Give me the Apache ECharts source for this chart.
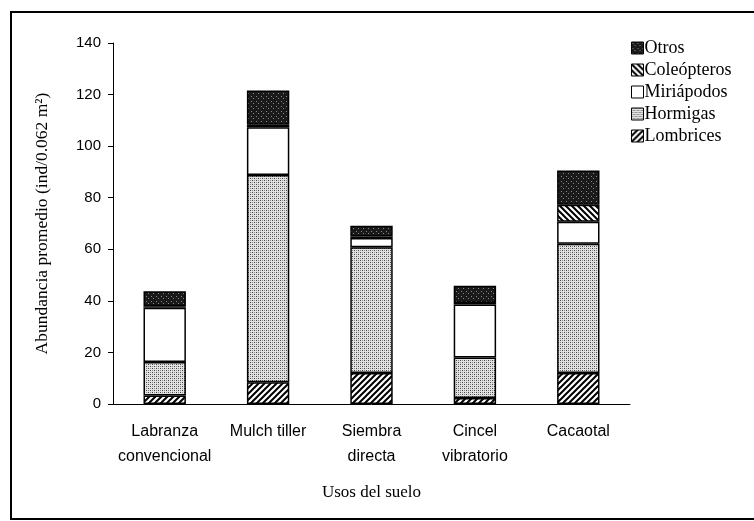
<!DOCTYPE html>
<html>
<head>
<meta charset="utf-8">
<script src="https://cdn.jsdelivr.net/npm/echarts@6/dist/echarts.min.js"></script>
<style>
  html, body { margin: 0; padding: 0; background: #fff; }
  #main { width: 754px; height: 521px; }
</style>
</head>
<body>
<div id="main"></div>
<script>
// categorias y valores
var usos = ['Labranza\nconvencional', 'Mulch tiller', 'Siembra\ndirecta', 'Cincel\nvibratorio', 'Cacaotal'];
var lombrices   = [3.3, 8.4, 12.0, 2.3, 12.0];
var hormigas    = [13.0, 80.4, 48.8, 15.7, 50.1];
var miriapodos  = [21.0, 18.5, 3.6, 20.6, 8.6];
var coleopteros = [0.6, 1.0, 0.6, 0.6, 6.6];
var otros       = [5.8, 13.3, 4.1, 6.7, 13.3];
var yTicks = [0, 20, 40, 60, 80, 100, 120, 140];

// tramas tipo blanco y negro
function trama(tipo) {
  var c = document.createElement('canvas');
  var ctx = c.getContext('2d');
  var s;
  if (tipo === 'slash' || tipo === 'back') {
    s = 6; c.width = s; c.height = s;
    ctx.fillStyle = '#fff'; ctx.fillRect(0, 0, s, s);
    ctx.strokeStyle = '#000'; ctx.lineWidth = 2;
    ctx.beginPath();
    if (tipo === 'slash') {
      ctx.moveTo(-1, s + 1); ctx.lineTo(s + 1, -1);
      ctx.moveTo(-1, 1); ctx.lineTo(1, -1);
      ctx.moveTo(s - 1, s + 1); ctx.lineTo(s + 1, s - 1);
    } else {
      ctx.moveTo(-1, -1); ctx.lineTo(s + 1, s + 1);
      ctx.moveTo(s - 1, -1); ctx.lineTo(s + 1, 1);
      ctx.moveTo(-1, s - 1); ctx.lineTo(1, s + 1);
    }
    ctx.stroke();
  } else if (tipo === 'puntos') {
    s = 4; c.width = s; c.height = s;
    ctx.fillStyle = '#e2e2e2'; ctx.fillRect(0, 0, s, s);
    ctx.fillStyle = '#444';
    ctx.fillRect(0, 0, 1, 1); ctx.fillRect(2, 2, 1, 1);
    ctx.fillStyle = '#8a8a8a';
    ctx.fillRect(0, 2, 1, 1); ctx.fillRect(2, 0, 1, 1);
  } else if (tipo === 'oscuro') {
    s = 5; c.width = s; c.height = s;
    ctx.fillStyle = '#1a1a1a'; ctx.fillRect(0, 0, s, s);
    ctx.fillStyle = '#888';
    ctx.fillRect(1, 1, 1, 1); ctx.fillRect(3, 3, 1, 1);
  }
  return { image: c, repeat: 'repeat' };
}

var myChart = echarts.init(document.getElementById('main'));

function serie(nombre, datos, color) {
  return {
    name: nombre,
    type: 'bar',
    stack: 'total',
    barWidth: '41%',
    data: datos,
    itemStyle: { color: color, borderColor: '#000', borderWidth: 1.5 },
    emphasis: { disabled: true }
  };
}

option = {
  animation: false,
  backgroundColor: '#fff',
  graphic: [{
    type: 'rect',
    shape: { x: 11, y: 12, width: 760, height: 507 },
    style: { fill: 'none', stroke: '#000', lineWidth: 2 },
    silent: true
  }],
  grid: { left: 113, right: 124, top: 43, bottom: 117 },
  legend: {
    orient: 'vertical',
    left: 626,
    top: 34,
    itemWidth: 12,
    itemHeight: 12,
    itemGap: 4,
    icon: 'rect',
    itemStyle: { borderColor: '#000', borderWidth: 1 },
    textStyle: { fontFamily: 'Liberation Serif', fontSize: 18, lineHeight: 14, color: '#000', padding: [0, 0, 0, -4] },
    data: ['Otros', 'Coleópteros', 'Miriápodos', 'Hormigas', 'Lombrices']
  },
  xAxis: {
    type: 'category',
    data: usos,
    name: 'Usos del suelo',
    nameLocation: 'middle',
    nameGap: 80,
    nameTextStyle: { fontFamily: 'Liberation Serif', fontSize: 17, color: '#000' },
    axisLine: { lineStyle: { color: '#000', width: 1 } },
    axisTick: { length: 5, lineStyle: { color: '#000' } },
    axisLabel: { margin: 15, fontFamily: 'Liberation Sans', fontSize: 16, color: '#000', lineHeight: 25, interval: 0 }
  },
  yAxis: {
    type: 'value',
    min: yTicks[0],
    max: yTicks[yTicks.length - 1],
    interval: 20,
    name: 'Abundancia promedio (ind/0.062 m²)',
    nameLocation: 'middle',
    nameGap: 62,
    nameTextStyle: { fontFamily: 'Liberation Serif', fontSize: 17.5, color: '#000' },
    axisLine: { show: true, lineStyle: { color: '#000', width: 1 } },
    axisTick: { show: true, length: 5, lineStyle: { color: '#000' } },
    splitLine: { show: false },
    axisLabel: { margin: 12, fontFamily: 'Liberation Sans', fontSize: 15, color: '#000' }
  },
  series: [
    serie('Lombrices', lombrices, trama('slash')),
    serie('Hormigas', hormigas, trama('puntos')),
    serie('Miriápodos', miriapodos, '#fff'),
    serie('Coleópteros', coleopteros, trama('back')),
    serie('Otros', otros, trama('oscuro'))
  ]
};
myChart.setOption(option);
</script>
</body>
</html>
